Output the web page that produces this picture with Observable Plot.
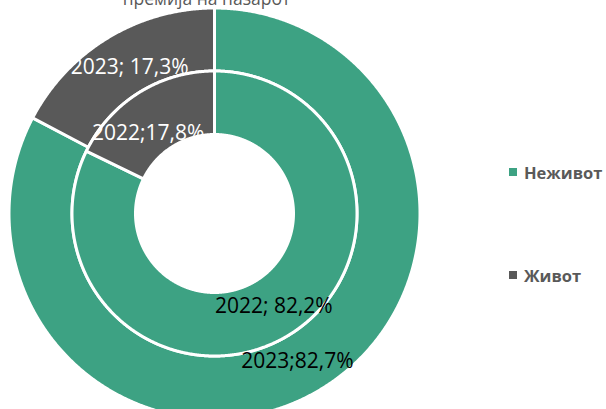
<!DOCTYPE html>
<html>
<head>
<meta charset="utf-8">
<script src="https://cdn.jsdelivr.net/npm/d3@7"></script>
<script src="https://cdn.jsdelivr.net/npm/@observablehq/plot@0.6"></script>
<style>
  html, body { margin: 0; padding: 0; background: #fff; }
  #wrap { position: relative; width: 606px; height: 409px; overflow: hidden; font-family: "Open Sans", sans-serif; }
  .leg { position: absolute; left: 509px; display: flex; align-items: center; font-weight: bold; font-size: 16.5px; color: #595959; white-space: nowrap; }
  .leg span.sw { display: inline-block; width: 8px; height: 8px; margin-right: 7px; }
</style>
</head>
<body>
<div id="wrap"></div>
<script>
// ---- data ----
const title = "премија на пазарот";
const categories = ["Неживот", "Живот"];
const colors = ["#3DA283", "#595959"];
const years = ["2023", "2022"];           // outer ring, inner ring
const values2023 = [82.7, 17.3];
const values2022 = [82.2, 17.8];
const labels2023 = ["2023;82,7%", "2023; 17,3%"];
const labels2022 = ["2022; 82,2%", "2022;17,8%"];
const labelColors = ["#000000", "#ffffff"];

// ---- layout ----
const W = 606, H = 409, CX = 214, CY = 213;
const rings = {
  "2023": {r0: 142.5, r1: 205.5, lr: 170, values: values2023, labels: labels2023},
  "2022": {r0: 79, r1: 142.5, lr: 108, values: values2022, labels: labels2022}
};
const labelOffsets = {
  "2023-Неживот": [-5, 2], "2023-Живот": [3, -1],
  "2022-Неживот": [2, 1], "2022-Живот": [-9, 11]
};

const pie = d3.pie().sort(null).value(d => d.value);
const pts = [];
const labels = [];
for (const yr of years) {
  const ring = rings[yr];
  const arcs = pie(categories.map((c, i) => ({cat: c, value: ring.values[i], label: ring.labels[i]})));
  for (const a of arcs) {
    const id = yr + "-" + a.data.cat;
    const n = Math.max(4, Math.ceil((a.endAngle - a.startAngle) / 0.005));
    for (let k = 0; k <= n; k++) {
      const t = a.startAngle + (a.endAngle - a.startAngle) * k / n;
      pts.push({id, cat: a.data.cat, x: ring.r1 * Math.sin(t), y: ring.r1 * Math.cos(t)});
    }
    for (let k = n; k >= 0; k--) {
      const t = a.startAngle + (a.endAngle - a.startAngle) * k / n;
      pts.push({id, cat: a.data.cat, x: ring.r0 * Math.sin(t), y: ring.r0 * Math.cos(t)});
    }
    const m = (a.startAngle + a.endAngle) / 2;
    labels.push({id, text: a.data.label, cat: a.data.cat,
      x: ring.lr * Math.sin(m), y: ring.lr * Math.cos(m)});
  }
}

const plot = Plot.plot({
  width: W, height: H,
  margin: 0,
  x: {domain: [-CX, W - CX], axis: null},
  y: {domain: [CY - H, CY], axis: null},
  color: {domain: categories, range: colors},
  style: {fontFamily: "Open Sans, sans-serif", background: "#fff"},
  marks: [
    Plot.line(pts, {x: "x", y: "y", z: "id", fill: "cat", stroke: "#fff", strokeWidth: 3, curve: "linear-closed"}),
    ...labels.map(l => Plot.text([l], {
      x: "x", y: "y", text: "text",
      fill: labelColors[categories.indexOf(l.cat)],
      fontSize: 21,
      dx: labelOffsets[l.id][0], dy: labelOffsets[l.id][1]
    })),
    Plot.text([title], {frameAnchor: "top-left", dx: CX - 8, dy: 4, lineAnchor: "bottom", textAnchor: "middle", fontSize: 17.5, fill: "#595959"})
  ]
});
const wrap = document.getElementById("wrap");
wrap.appendChild(plot);

const legendY = [172, 275];
categories.forEach((c, i) => {
  const d = document.createElement("div");
  d.className = "leg";
  d.style.top = (legendY[i] - 13) + "px";
  d.style.height = "26px";
  d.innerHTML = `<span class="sw" style="background:${colors[i]}"></span>${c}`;
  wrap.appendChild(d);
});
</script>
</body>
</html>
